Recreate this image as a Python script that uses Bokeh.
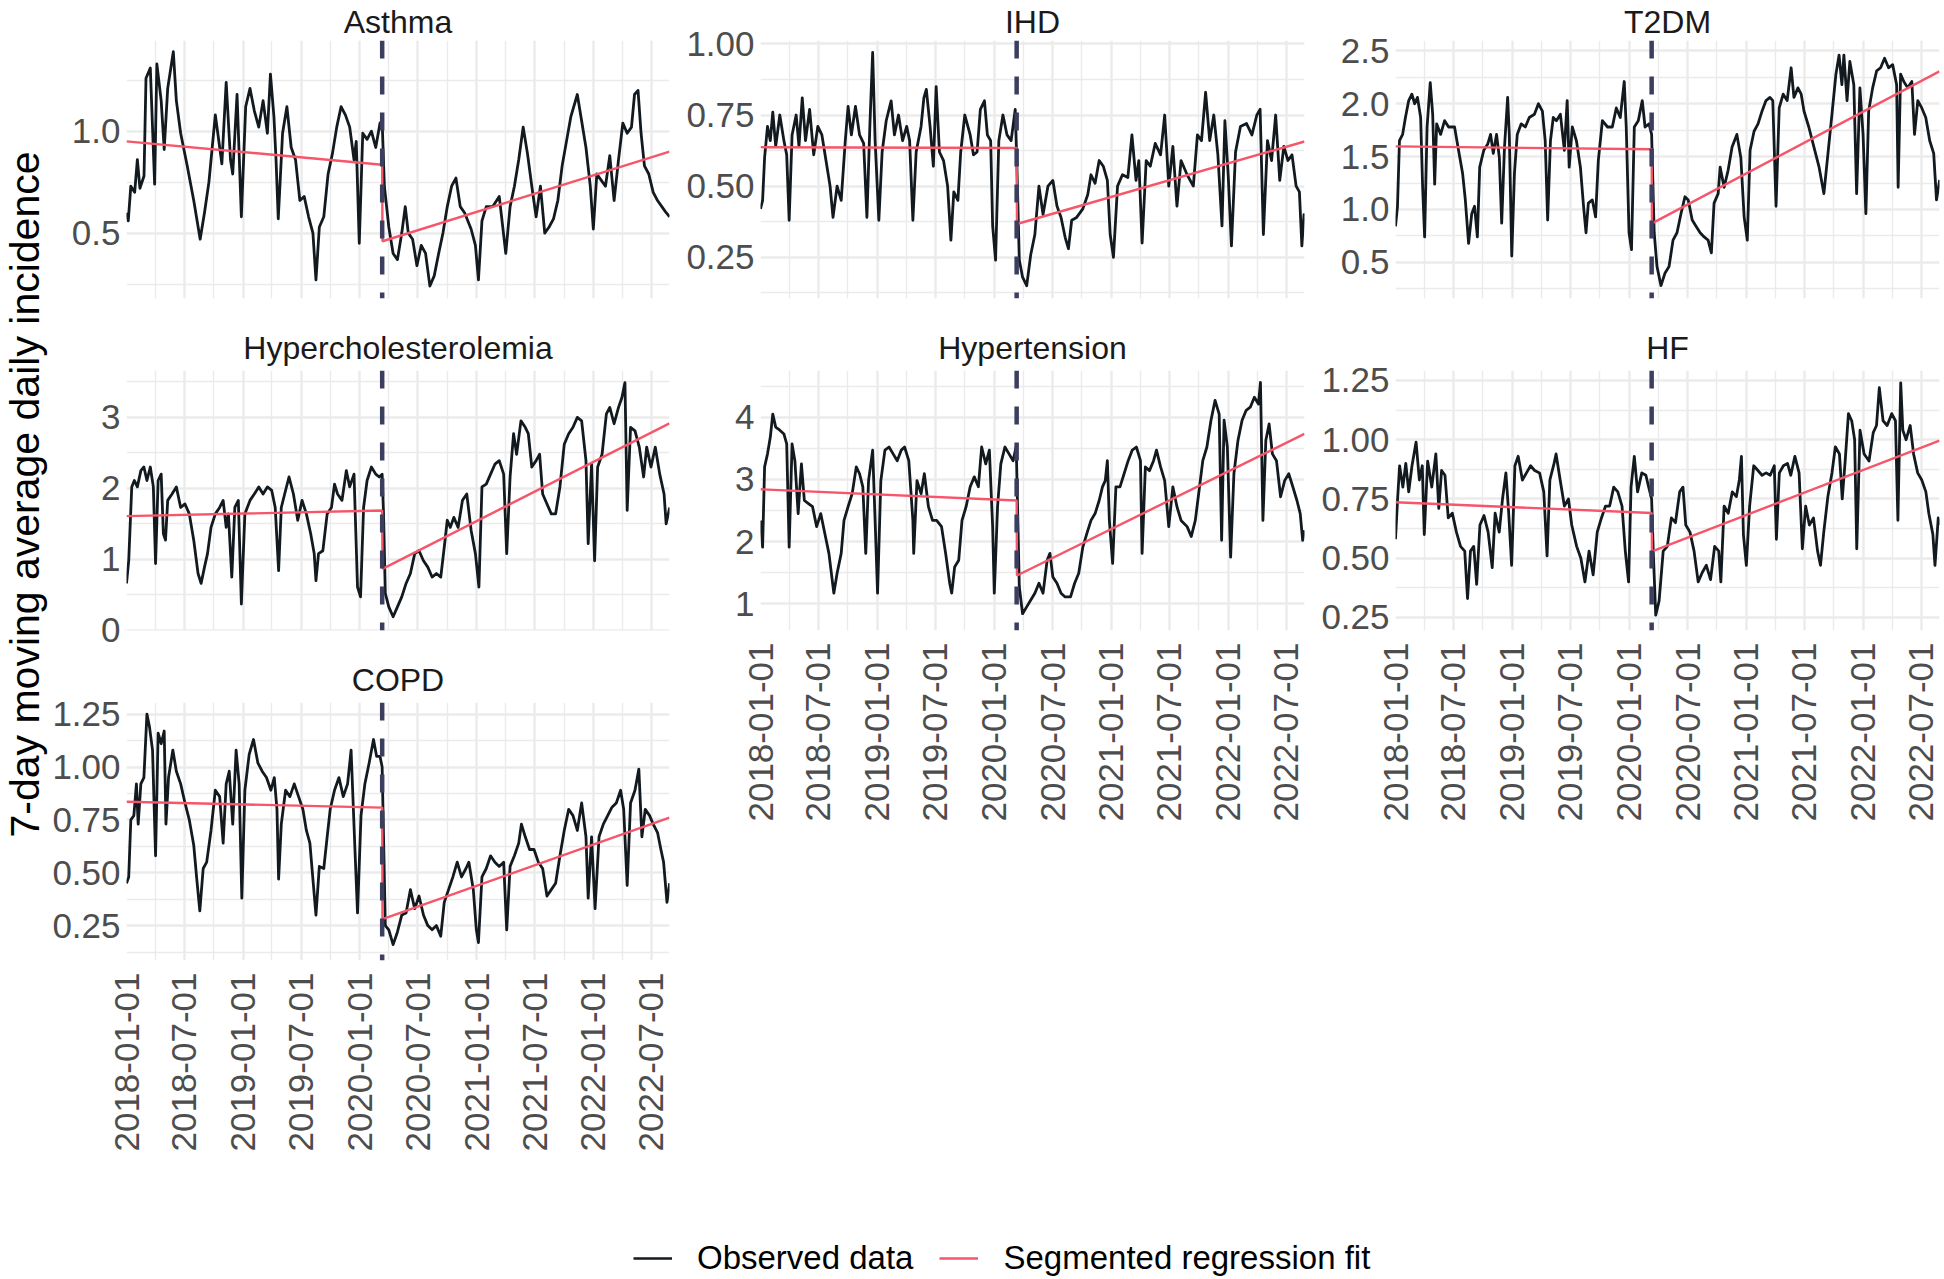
import numpy as np
import pandas as pd
from bokeh.plotting import figure
from bokeh.models import (Range1d, FixedTicker, PrintfTickFormatter,
                          DatetimeTickFormatter, Span, Legend, LegendItem)
from bokeh.layouts import row, column
from bokeh.embed import file_html
from bokeh.resources import INLINE
from bokeh.core.properties import value

# ---------------- data ----------------
X_START = "2018-01-01"
X_END = "2022-08-27"
BREAK_DATE = "2020-03-11"
X_TICK_LABELS = ["2018-01-01", "2018-07-01", "2019-01-01", "2019-07-01", "2020-01-01",
                 "2020-07-01", "2021-01-01", "2021-07-01", "2022-01-01", "2022-07-01"]
X_MINOR_DATES = ["2018-04-01", "2018-10-01", "2019-04-01", "2019-10-01", "2020-04-01",
                 "2020-10-01", "2021-04-01", "2021-10-01", "2022-04-01"]
Y_TITLE = "7-day moving average daily incidence"
LEGEND_LABELS = ["Observed data", "Segmented regression fit"]

# observed series: decimal-year positions and values
ASTHMA_YR = [2018.000, 2018.015, 2018.037, 2018.070, 2018.093, 2018.115, 2018.150, 2018.167, 2018.204, 2018.241,
             2018.260, 2018.297, 2018.323, 2018.353, 2018.401, 2018.427, 2018.464, 2018.520, 2018.576, 2018.631,
             2018.668, 2018.706, 2018.761, 2018.817, 2018.854, 2018.891, 2018.910, 2018.947, 2018.984, 2019.021,
             2019.058, 2019.095, 2019.133, 2019.170, 2019.207, 2019.233, 2019.263, 2019.281, 2019.300, 2019.337,
             2019.374, 2019.411, 2019.448, 2019.485, 2019.522, 2019.560, 2019.597, 2019.623, 2019.652, 2019.690,
             2019.727, 2019.764, 2019.801, 2019.838, 2019.875, 2019.912, 2019.949, 2019.968, 2019.994, 2020.024,
             2020.061, 2020.098, 2020.135, 2020.172, 2020.190, 2020.209, 2020.247, 2020.284, 2020.321, 2020.358,
             2020.388, 2020.414, 2020.451, 2020.488, 2020.525, 2020.562, 2020.599, 2020.636, 2020.674, 2020.711,
             2020.748, 2020.785, 2020.822, 2020.859, 2020.896, 2020.952, 2020.989, 2021.015, 2021.045, 2021.082,
             2021.138, 2021.193, 2021.249, 2021.286, 2021.323, 2021.360, 2021.398, 2021.435, 2021.472, 2021.509,
             2021.546, 2021.583, 2021.620, 2021.658, 2021.695, 2021.732, 2021.769, 2021.806, 2021.862, 2021.899,
             2021.936, 2021.973, 2021.999, 2022.029, 2022.066, 2022.103, 2022.140, 2022.177, 2022.215, 2022.252,
             2022.289, 2022.326, 2022.352, 2022.382, 2022.408, 2022.437, 2022.474, 2022.512, 2022.549, 2022.586,
             2022.623, 2022.653]
ASTHMA_VAL = [0.60, 0.56, 0.73, 0.70, 0.86, 0.72, 0.78, 1.26, 1.31, 0.74,
              1.33, 1.15, 0.91, 1.21, 1.39, 1.15, 0.99, 0.83, 0.66, 0.47,
              0.60, 0.75, 1.08, 0.84, 1.24, 0.86, 0.79, 1.18, 0.58, 1.12,
              1.21, 1.10, 1.02, 1.15, 0.99, 1.28, 1.07, 0.86, 0.57, 0.99,
              1.12, 0.92, 0.86, 0.66, 0.68, 0.58, 0.50, 0.27, 0.53, 0.58,
              0.79, 0.89, 1.02, 1.12, 1.08, 1.02, 0.86, 0.95, 0.45, 0.99,
              0.96, 1.00, 0.92, 1.04, 1.05, 0.73, 0.53, 0.40, 0.37, 0.50,
              0.63, 0.50, 0.47, 0.34, 0.44, 0.40, 0.24, 0.29, 0.40, 0.50,
              0.63, 0.73, 0.77, 0.63, 0.60, 0.52, 0.44, 0.27, 0.56, 0.63,
              0.63, 0.68, 0.40, 0.63, 0.73, 0.86, 1.02, 0.89, 0.73, 0.58,
              0.73, 0.50, 0.53, 0.57, 0.66, 0.83, 0.95, 1.07, 1.18, 1.05,
              0.92, 0.73, 0.52, 0.79, 0.76, 0.73, 0.88, 0.66, 0.86, 1.04,
              0.99, 1.02, 1.18, 1.20, 0.99, 0.83, 0.79, 0.70, 0.66, 0.63,
              0.60, 0.58]

IHD_YR = [2018.000, 2018.018, 2018.035, 2018.060, 2018.084, 2018.105, 2018.130, 2018.165, 2018.200, 2018.224,
          2018.245, 2018.270, 2018.305, 2018.329, 2018.357, 2018.385, 2018.420, 2018.455, 2018.490, 2018.525,
          2018.560, 2018.595, 2018.620, 2018.655, 2018.690, 2018.725, 2018.749, 2018.777, 2018.812, 2018.847,
          2018.882, 2018.910, 2018.935, 2018.959, 2018.980, 2019.012, 2019.040, 2019.075, 2019.117, 2019.145,
          2019.180, 2019.215, 2019.250, 2019.275, 2019.303, 2019.331, 2019.373, 2019.397, 2019.418, 2019.450,
          2019.478, 2019.502, 2019.530, 2019.565, 2019.600, 2019.628, 2019.653, 2019.688, 2019.712, 2019.747,
          2019.793, 2019.821, 2019.852, 2019.880, 2019.915, 2019.940, 2019.968, 2019.985, 2020.010, 2020.038,
          2020.073, 2020.108, 2020.143, 2020.178, 2020.190, 2020.213, 2020.241, 2020.276, 2020.311, 2020.346,
          2020.381, 2020.416, 2020.458, 2020.500, 2020.535, 2020.570, 2020.605, 2020.633, 2020.661, 2020.703,
          2020.756, 2020.798, 2020.826, 2020.861, 2020.896, 2020.931, 2020.966, 2020.990, 2021.018, 2021.053,
          2021.095, 2021.141, 2021.176, 2021.211, 2021.235, 2021.263, 2021.298, 2021.333, 2021.375, 2021.421,
          2021.456, 2021.491, 2021.526, 2021.561, 2021.596, 2021.648, 2021.701, 2021.736, 2021.771, 2021.806,
          2021.841, 2021.876, 2021.911, 2021.946, 2021.971, 2021.999, 2022.027, 2022.062, 2022.104, 2022.156,
          2022.202, 2022.244, 2022.272, 2022.300, 2022.335, 2022.370, 2022.405, 2022.440, 2022.475, 2022.510,
          2022.545, 2022.580, 2022.608, 2022.629, 2022.647, 2022.653]
IHD_VAL = [0.42, 0.45, 0.60, 0.71, 0.66, 0.76, 0.64, 0.75, 0.66, 0.61,
           0.38, 0.68, 0.75, 0.64, 0.81, 0.66, 0.77, 0.61, 0.71, 0.68,
           0.59, 0.50, 0.39, 0.50, 0.45, 0.66, 0.78, 0.68, 0.78, 0.68,
           0.65, 0.39, 0.71, 0.97, 0.66, 0.38, 0.62, 0.73, 0.80, 0.68,
           0.75, 0.66, 0.71, 0.66, 0.38, 0.62, 0.71, 0.81, 0.84, 0.71,
           0.57, 0.85, 0.62, 0.59, 0.50, 0.31, 0.48, 0.45, 0.62, 0.75,
           0.68, 0.61, 0.62, 0.77, 0.80, 0.68, 0.66, 0.36, 0.24, 0.66,
           0.75, 0.68, 0.66, 0.77, 0.61, 0.24, 0.18, 0.15, 0.26, 0.33,
           0.50, 0.40, 0.50, 0.52, 0.43, 0.39, 0.32, 0.28, 0.38, 0.39,
           0.42, 0.47, 0.54, 0.51, 0.59, 0.57, 0.52, 0.33, 0.25, 0.50,
           0.54, 0.53, 0.68, 0.52, 0.59, 0.30, 0.59, 0.57, 0.65, 0.61,
           0.75, 0.50, 0.64, 0.43, 0.59, 0.54, 0.50, 0.68, 0.66, 0.83,
           0.66, 0.75, 0.61, 0.36, 0.73, 0.54, 0.29, 0.62, 0.71, 0.72,
           0.68, 0.75, 0.77, 0.33, 0.66, 0.59, 0.75, 0.52, 0.64, 0.59,
           0.61, 0.50, 0.48, 0.29, 0.40, 0.39]

T2DM_YR = [2018.000, 2018.017, 2018.034, 2018.061, 2018.085, 2018.113, 2018.140, 2018.164, 2018.188, 2018.215,
           2018.232, 2018.249, 2018.270, 2018.297, 2018.318, 2018.335, 2018.352, 2018.386, 2018.420, 2018.454,
           2018.505, 2018.539, 2018.574, 2018.597, 2018.625, 2018.652, 2018.676, 2018.700, 2018.720, 2018.755,
           2018.789, 2018.813, 2018.836, 2018.864, 2018.888, 2018.908, 2018.932, 2018.959, 2018.973, 2018.994,
           2019.017, 2019.041, 2019.075, 2019.110, 2019.144, 2019.188, 2019.222, 2019.256, 2019.280, 2019.301,
           2019.325, 2019.349, 2019.376, 2019.410, 2019.444, 2019.468, 2019.485, 2019.512, 2019.547, 2019.581,
           2019.608, 2019.629, 2019.649, 2019.683, 2019.711, 2019.734, 2019.769, 2019.813, 2019.854, 2019.888,
           2019.922, 2019.956, 2019.973, 2019.997, 2020.018, 2020.042, 2020.076, 2020.110, 2020.134, 2020.168,
           2020.190, 2020.212, 2020.236, 2020.270, 2020.305, 2020.339, 2020.373, 2020.407, 2020.441, 2020.475,
           2020.503, 2020.537, 2020.571, 2020.605, 2020.639, 2020.673, 2020.701, 2020.724, 2020.759, 2020.776,
           2020.810, 2020.844, 2020.878, 2020.919, 2020.953, 2020.981, 2021.008, 2021.032, 2021.066, 2021.100,
           2021.134, 2021.168, 2021.202, 2021.226, 2021.254, 2021.281, 2021.315, 2021.349, 2021.383, 2021.407,
           2021.441, 2021.469, 2021.493, 2021.534, 2021.578, 2021.622, 2021.663, 2021.698, 2021.732, 2021.766,
           2021.793, 2021.817, 2021.834, 2021.861, 2021.885, 2021.919, 2021.943, 2021.971, 2021.998, 2022.022,
           2022.046, 2022.080, 2022.114, 2022.148, 2022.182, 2022.216, 2022.251, 2022.285, 2022.298, 2022.319,
           2022.346, 2022.380, 2022.415, 2022.438, 2022.466, 2022.500, 2022.534, 2022.568, 2022.602, 2022.626,
           2022.653]
T2DM_VAL = [0.84, 1.03, 1.65, 1.71, 1.87, 2.03, 2.09, 2.00, 2.06, 1.87,
            1.21, 0.74, 1.78, 2.20, 1.90, 1.24, 1.81, 1.71, 1.84, 1.78,
            1.78, 1.56, 1.34, 1.09, 0.68, 0.96, 1.03, 0.74, 1.40, 1.56,
            1.62, 1.71, 1.53, 1.71, 1.49, 0.87, 1.59, 2.06, 1.71, 0.56,
            1.34, 1.71, 1.81, 1.78, 1.87, 1.90, 2.00, 1.93, 1.65, 0.90,
            1.65, 1.87, 1.84, 1.90, 1.56, 2.03, 1.40, 1.78, 1.65, 1.40,
            1.03, 0.78, 1.06, 1.09, 0.93, 1.46, 1.84, 1.78, 1.78, 1.96,
            1.87, 2.21, 1.78, 0.78, 0.62, 1.78, 1.84, 2.03, 1.78, 1.81,
            1.71, 0.78, 0.46, 0.28, 0.40, 0.46, 0.71, 0.78, 0.96, 1.12,
            1.09, 0.90, 0.84, 0.78, 0.74, 0.71, 0.59, 1.06, 1.15, 1.40,
            1.21, 1.37, 1.59, 1.71, 1.49, 0.93, 0.71, 1.56, 1.74, 1.81,
            1.93, 2.03, 2.06, 2.03, 1.03, 1.96, 2.09, 2.03, 2.34, 2.06,
            2.15, 2.09, 1.93, 1.78, 1.59, 1.40, 1.15, 1.53, 1.90, 2.28,
            2.46, 2.18, 2.46, 2.03, 2.40, 2.18, 1.15, 2.15, 1.71, 0.96,
            1.93, 2.15, 2.31, 2.34, 2.43, 2.34, 2.37, 2.18, 1.21, 2.28,
            2.21, 2.15, 2.21, 1.71, 2.03, 1.96, 1.87, 1.65, 1.53, 1.09,
            1.28]

HYPERCHOL_YR = [2018.000, 2018.019, 2018.045, 2018.067, 2018.093, 2018.123, 2018.149, 2018.175, 2018.204, 2018.230,
                2018.249, 2018.271, 2018.297, 2018.316, 2018.334, 2018.353, 2018.390, 2018.427, 2018.464, 2018.501,
                2018.538, 2018.576, 2018.613, 2018.639, 2018.668, 2018.694, 2018.724, 2018.761, 2018.798, 2018.828,
                2018.854, 2018.873, 2018.902, 2018.928, 2018.958, 2018.984, 2019.014, 2019.058, 2019.095, 2019.133,
                2019.170, 2019.207, 2019.244, 2019.274, 2019.303, 2019.326, 2019.355, 2019.392, 2019.430, 2019.467,
                2019.504, 2019.541, 2019.578, 2019.608, 2019.623, 2019.645, 2019.682, 2019.719, 2019.756, 2019.782,
                2019.808, 2019.846, 2019.883, 2019.912, 2019.949, 2019.979, 2020.005, 2020.031, 2020.061, 2020.098,
                2020.135, 2020.165, 2020.190, 2020.202, 2020.217, 2020.247, 2020.284, 2020.321, 2020.358, 2020.395,
                2020.432, 2020.469, 2020.506, 2020.544, 2020.581, 2020.618, 2020.655, 2020.692, 2020.722, 2020.748,
                2020.774, 2020.804, 2020.841, 2020.878, 2020.915, 2020.952, 2020.989, 2021.019, 2021.045, 2021.082,
                2021.119, 2021.156, 2021.193, 2021.231, 2021.257, 2021.286, 2021.316, 2021.342, 2021.379, 2021.416,
                2021.442, 2021.472, 2021.509, 2021.539, 2021.565, 2021.602, 2021.639, 2021.676, 2021.713, 2021.750,
                2021.788, 2021.825, 2021.862, 2021.899, 2021.936, 2021.955, 2021.984, 2022.010, 2022.036, 2022.074,
                2022.111, 2022.140, 2022.177, 2022.215, 2022.244, 2022.270, 2022.289, 2022.318, 2022.356, 2022.393,
                2022.430, 2022.456, 2022.493, 2022.530, 2022.568, 2022.605, 2022.623, 2022.653]
HYPERCHOL_VAL = [0.66, 0.98, 2.02, 2.11, 2.02, 2.25, 2.30, 2.11, 2.30, 2.02,
                 0.94, 2.11, 2.20, 1.36, 1.27, 1.83, 1.92, 2.02, 1.73, 1.78,
                 1.64, 1.27, 0.80, 0.66, 0.89, 1.08, 1.45, 1.64, 1.73, 1.83,
                 1.45, 1.64, 0.75, 1.73, 1.83, 0.37, 1.64, 1.83, 1.92, 2.02,
                 1.92, 2.02, 1.97, 1.73, 0.84, 1.73, 1.92, 2.16, 1.92, 1.55,
                 1.83, 1.64, 1.36, 1.08, 0.70, 1.08, 1.12, 1.64, 1.73, 2.06,
                 1.92, 1.83, 2.25, 2.02, 2.20, 0.61, 0.47, 1.73, 2.11, 2.30,
                 2.20, 2.16, 2.20, 1.64, 0.52, 0.33, 0.19, 0.33, 0.47, 0.66,
                 0.80, 1.08, 1.12, 0.98, 0.89, 0.75, 0.80, 0.75, 1.17, 1.55,
                 1.45, 1.59, 1.45, 1.83, 1.92, 1.41, 1.08, 0.61, 2.02, 2.06,
                 2.20, 2.34, 2.39, 2.20, 1.08, 2.16, 2.77, 2.48, 2.95, 2.86,
                 2.77, 2.30, 2.39, 2.48, 1.92, 1.78, 1.64, 1.64, 2.02, 2.62,
                 2.77, 2.86, 3.00, 2.95, 2.39, 1.22, 2.34, 0.98, 2.30, 2.48,
                 3.05, 3.14, 2.91, 3.14, 3.28, 3.49, 1.69, 2.86, 2.81, 2.58,
                 2.16, 2.58, 2.30, 2.58, 2.20, 1.92, 1.50, 1.73]

HYPERT_YR = [2018.000, 2018.018, 2018.035, 2018.060, 2018.084, 2018.105, 2018.130, 2018.165, 2018.200, 2018.224,
             2018.245, 2018.270, 2018.294, 2018.322, 2018.350, 2018.375, 2018.410, 2018.445, 2018.480, 2018.515,
             2018.550, 2018.585, 2018.627, 2018.655, 2018.690, 2018.714, 2018.749, 2018.784, 2018.819, 2018.847,
             2018.875, 2018.900, 2018.924, 2018.959, 2018.980, 2019.001, 2019.029, 2019.064, 2019.099, 2019.134,
             2019.169, 2019.204, 2019.232, 2019.268, 2019.303, 2019.310, 2019.338, 2019.373, 2019.401, 2019.436,
             2019.471, 2019.506, 2019.548, 2019.583, 2019.618, 2019.635, 2019.660, 2019.695, 2019.723, 2019.758,
             2019.793, 2019.828, 2019.863, 2019.891, 2019.926, 2019.957, 2019.985, 2019.999, 2020.027, 2020.055,
             2020.090, 2020.125, 2020.160, 2020.185, 2020.190, 2020.213, 2020.241, 2020.276, 2020.311, 2020.346,
             2020.381, 2020.416, 2020.451, 2020.475, 2020.500, 2020.535, 2020.570, 2020.605, 2020.651, 2020.686,
             2020.721, 2020.756, 2020.791, 2020.826, 2020.861, 2020.896, 2020.924, 2020.948, 2020.966, 2020.983,
             2021.011, 2021.039, 2021.074, 2021.109, 2021.144, 2021.179, 2021.214, 2021.249, 2021.263, 2021.291,
             2021.326, 2021.361, 2021.386, 2021.421, 2021.456, 2021.491, 2021.526, 2021.561, 2021.596, 2021.648,
             2021.683, 2021.718, 2021.754, 2021.782, 2021.817, 2021.852, 2021.887, 2021.922, 2021.943, 2021.964,
             2021.992, 2022.020, 2022.048, 2022.083, 2022.118, 2022.153, 2022.188, 2022.223, 2022.258, 2022.275,
             2022.296, 2022.321, 2022.349, 2022.377, 2022.412, 2022.447, 2022.482, 2022.517, 2022.552, 2022.587,
             2022.615, 2022.636, 2022.653]
HYPERT_VAL = [2.34, 1.91, 3.20, 3.41, 3.68, 4.05, 3.84, 3.79, 3.73, 3.57,
              1.91, 3.57, 3.30, 2.45, 3.25, 2.66, 2.61, 2.56, 2.24, 2.45,
              2.13, 1.81, 1.17, 1.49, 1.81, 2.34, 2.56, 2.77, 3.20, 3.09,
              2.88, 1.81, 2.98, 3.47, 2.34, 1.17, 2.98, 3.47, 3.52, 3.41,
              3.30, 3.47, 3.52, 3.30, 2.34, 1.81, 2.98, 2.77, 3.09, 2.56,
              2.34, 2.34, 2.24, 1.81, 1.33, 1.17, 1.59, 1.70, 2.34, 2.56,
              2.88, 3.04, 2.88, 3.52, 3.25, 3.47, 2.24, 1.17, 2.56, 3.25,
              3.52, 3.41, 3.30, 3.52, 3.25, 1.27, 0.84, 0.95, 1.06, 1.17,
              1.33, 1.17, 1.70, 1.81, 1.43, 1.33, 1.17, 1.11, 1.11, 1.33,
              1.49, 1.91, 2.13, 2.34, 2.45, 2.66, 2.88, 2.98, 3.30, 2.34,
              1.65, 2.88, 2.88, 3.09, 3.30, 3.47, 3.52, 3.30, 1.81, 3.20,
              3.14, 3.30, 3.47, 3.20, 2.98, 2.24, 2.88, 2.56, 2.34, 2.24,
              2.08, 2.34, 2.88, 3.30, 3.52, 3.95, 4.27, 4.05, 2.02, 3.95,
              3.52, 1.75, 3.09, 3.63, 3.95, 4.11, 4.16, 4.32, 4.21, 4.56,
              2.34, 3.63, 3.89, 3.41, 3.30, 2.72, 2.98, 3.09, 2.88, 2.66,
              2.45, 2.02, 2.18]

HF_YR = [2018.000, 2018.018, 2018.035, 2018.063, 2018.088, 2018.113, 2018.141, 2018.176, 2018.204, 2018.229,
         2018.246, 2018.275, 2018.310, 2018.345, 2018.370, 2018.394, 2018.423, 2018.451, 2018.486, 2018.521,
         2018.556, 2018.592, 2018.616, 2018.641, 2018.669, 2018.694, 2018.722, 2018.757, 2018.792, 2018.827,
         2018.852, 2018.887, 2018.915, 2018.944, 2018.968, 2018.993, 2019.021, 2019.049, 2019.085, 2019.120,
         2019.155, 2019.190, 2019.232, 2019.268, 2019.296, 2019.320, 2019.356, 2019.373, 2019.408, 2019.444,
         2019.479, 2019.507, 2019.549, 2019.585, 2019.620, 2019.655, 2019.690, 2019.725, 2019.761, 2019.796,
         2019.831, 2019.866, 2019.901, 2019.937, 2019.965, 2019.993, 2020.014, 2020.042, 2020.070, 2020.106,
         2020.141, 2020.165, 2020.190, 2020.204, 2020.225, 2020.254, 2020.289, 2020.324, 2020.359, 2020.394,
         2020.430, 2020.458, 2020.482, 2020.518, 2020.553, 2020.588, 2020.623, 2020.658, 2020.694, 2020.729,
         2020.764, 2020.782, 2020.810, 2020.845, 2020.880, 2020.915, 2020.940, 2020.958, 2020.975, 2021.000,
         2021.028, 2021.063, 2021.099, 2021.134, 2021.169, 2021.204, 2021.239, 2021.257, 2021.282, 2021.317,
         2021.352, 2021.380, 2021.415, 2021.451, 2021.479, 2021.507, 2021.539, 2021.574, 2021.609, 2021.634,
         2021.662, 2021.697, 2021.732, 2021.761, 2021.796, 2021.820, 2021.845, 2021.873, 2021.901, 2021.926,
         2021.944, 2021.972, 2022.007, 2022.049, 2022.085, 2022.113, 2022.137, 2022.169, 2022.204, 2022.243,
         2022.275, 2022.296, 2022.320, 2022.338, 2022.366, 2022.401, 2022.430, 2022.465, 2022.500, 2022.535,
         2022.560, 2022.595, 2022.613, 2022.641, 2022.653]
HF_VAL = [0.58, 0.75, 0.89, 0.80, 0.90, 0.78, 0.89, 0.99, 0.83, 0.89,
          0.60, 0.91, 0.80, 0.94, 0.71, 0.87, 0.85, 0.67, 0.69, 0.61,
          0.55, 0.53, 0.33, 0.53, 0.55, 0.39, 0.64, 0.68, 0.61, 0.46,
          0.69, 0.61, 0.75, 0.86, 0.69, 0.47, 0.89, 0.93, 0.83, 0.86,
          0.89, 0.87, 0.86, 0.78, 0.51, 0.83, 0.90, 0.94, 0.83, 0.72,
          0.75, 0.64, 0.55, 0.50, 0.40, 0.53, 0.43, 0.61, 0.67, 0.72,
          0.72, 0.80, 0.78, 0.72, 0.53, 0.40, 0.80, 0.93, 0.78, 0.86,
          0.85, 0.80, 0.75, 0.53, 0.26, 0.32, 0.53, 0.55, 0.67, 0.65,
          0.78, 0.80, 0.64, 0.61, 0.53, 0.40, 0.44, 0.47, 0.41, 0.55,
          0.53, 0.40, 0.72, 0.69, 0.78, 0.76, 0.83, 0.93, 0.60, 0.47,
          0.72, 0.89, 0.87, 0.85, 0.86, 0.85, 0.89, 0.58, 0.86, 0.89,
          0.90, 0.85, 0.93, 0.86, 0.54, 0.72, 0.64, 0.67, 0.53, 0.47,
          0.61, 0.76, 0.86, 0.97, 0.94, 0.75, 0.91, 1.11, 1.08, 1.00,
          0.54, 1.04, 0.94, 0.91, 1.03, 1.06, 1.22, 1.08, 1.06, 1.11,
          1.08, 0.66, 1.24, 1.04, 1.00, 1.06, 0.94, 0.86, 0.83, 0.78,
          0.69, 0.60, 0.47, 0.67, 0.64]

COPD_YR = [2018.000, 2018.019, 2018.037, 2018.063, 2018.085, 2018.100, 2018.123, 2018.149, 2018.175, 2018.197,
           2018.223, 2018.249, 2018.271, 2018.297, 2018.323, 2018.338, 2018.360, 2018.397, 2018.427, 2018.464,
           2018.501, 2018.538, 2018.576, 2018.602, 2018.628, 2018.657, 2018.687, 2018.724, 2018.761, 2018.798,
           2018.828, 2018.854, 2018.880, 2018.910, 2018.939, 2018.965, 2018.988, 2019.014, 2019.051, 2019.088,
           2019.125, 2019.162, 2019.199, 2019.237, 2019.266, 2019.289, 2019.303, 2019.326, 2019.363, 2019.400,
           2019.437, 2019.474, 2019.511, 2019.541, 2019.571, 2019.600, 2019.623, 2019.652, 2019.690, 2019.719,
           2019.745, 2019.782, 2019.820, 2019.857, 2019.894, 2019.924, 2019.957, 2019.979, 2020.009, 2020.042,
           2020.079, 2020.116, 2020.143, 2020.172, 2020.190, 2020.202, 2020.217, 2020.247, 2020.284, 2020.321,
           2020.358, 2020.395, 2020.432, 2020.469, 2020.506, 2020.544, 2020.581, 2020.618, 2020.655, 2020.692,
           2020.722, 2020.759, 2020.796, 2020.833, 2020.870, 2020.908, 2020.933, 2020.971, 2020.997, 2021.015,
           2021.045, 2021.082, 2021.119, 2021.156, 2021.193, 2021.231, 2021.257, 2021.286, 2021.323, 2021.360,
           2021.383, 2021.416, 2021.453, 2021.491, 2021.528, 2021.565, 2021.602, 2021.639, 2021.676, 2021.713,
           2021.750, 2021.788, 2021.825, 2021.862, 2021.899, 2021.936, 2021.955, 2021.984, 2022.014, 2022.048,
           2022.085, 2022.122, 2022.159, 2022.196, 2022.233, 2022.259, 2022.289, 2022.318, 2022.356, 2022.389,
           2022.415, 2022.444, 2022.481, 2022.512, 2022.549, 2022.578, 2022.601, 2022.630, 2022.653]
COPD_VAL = [0.45, 0.48, 0.75, 0.77, 0.92, 0.73, 0.92, 0.95, 1.25, 1.19,
            1.08, 0.58, 1.16, 1.11, 1.17, 0.73, 0.95, 1.08, 0.98, 0.92,
            0.83, 0.75, 0.63, 0.47, 0.32, 0.52, 0.55, 0.70, 0.89, 0.86,
            0.64, 0.92, 0.98, 0.73, 1.08, 0.92, 0.38, 0.89, 1.06, 1.13,
            1.02, 0.98, 0.95, 0.89, 0.95, 0.80, 0.47, 0.73, 0.89, 0.86,
            0.92, 0.86, 0.80, 0.70, 0.64, 0.45, 0.30, 0.53, 0.52, 0.67,
            0.80, 0.89, 0.95, 0.86, 0.92, 1.08, 0.61, 0.31, 0.77, 0.92,
            1.02, 1.13, 1.05, 1.05, 1.00, 0.67, 0.25, 0.23, 0.16, 0.22,
            0.30, 0.31, 0.42, 0.33, 0.39, 0.30, 0.25, 0.23, 0.25, 0.20,
            0.36, 0.42, 0.48, 0.55, 0.48, 0.52, 0.55, 0.42, 0.23, 0.17,
            0.48, 0.52, 0.58, 0.55, 0.53, 0.55, 0.23, 0.53, 0.58, 0.64,
            0.73, 0.67, 0.61, 0.61, 0.55, 0.52, 0.39, 0.42, 0.45, 0.58,
            0.70, 0.80, 0.77, 0.70, 0.83, 0.67, 0.38, 0.67, 0.33, 0.67,
            0.73, 0.77, 0.81, 0.83, 0.89, 0.80, 0.44, 0.83, 0.89, 0.99,
            0.67, 0.80, 0.77, 0.73, 0.69, 0.61, 0.55, 0.36, 0.45]

# segmented regression fit: [pre start, pre end, post start, post end]
ASTHMA_FIT = [0.95, 0.835, 0.46, 0.90]
IHD_FIT = [0.637, 0.634, 0.367, 0.657]
T2DM_FIT = [1.597, 1.569, 0.869, 2.306]
HYPERCHOL_FIT = [1.608, 1.687, 0.866, 2.916]
HYPERT_FIT = [2.84, 2.66, 1.455, 3.73]
HF_FIT = [0.736, 0.691, 0.529, 0.996]
COPD_FIT = [0.836, 0.808, 0.281, 0.761]

# y limits and y ticks per panel
ASTHMA_YLIM = [0.179, 1.445]
IHD_YLIM = [0.105, 1.012]
T2DM_YLIM = [0.158, 2.598]
HYPERCHOL_YLIM = [-0.003, 3.66]
HYPERT_YLIM = [0.57, 4.75]
HF_YLIM = [0.195, 1.292]
COPD_YLIM = [0.085, 1.305]

ASTHMA_YT = [0.5, 1.0];                 ASTHMA_YM = [0.25, 0.75, 1.25]
IHD_YT = [0.25, 0.5, 0.75, 1.0];        IHD_YM = [0.125, 0.375, 0.625, 0.875]
T2DM_YT = [0.5, 1.0, 1.5, 2.0, 2.5];    T2DM_YM = [0.25, 0.75, 1.25, 1.75, 2.25]
HYPERCHOL_YT = [0, 1, 2, 3];            HYPERCHOL_YM = [0.5, 1.5, 2.5, 3.5]
HYPERT_YT = [1, 2, 3, 4];               HYPERT_YM = [1.5, 2.5, 3.5, 4.5]
HF_YT = [0.25, 0.5, 0.75, 1.0, 1.25];   HF_YM = [0.375, 0.625, 0.875, 1.125]
COPD_YT = [0.25, 0.5, 0.75, 1.0, 1.25]; COPD_YM = [0.125, 0.375, 0.625, 0.875, 1.125]

# ---------------- styling ----------------
FONT = "Liberation Sans"
TICK_FS = "35px"
STRIP_FS = "32px"
LEG_FS = "33px"
OBS_COLOR = "#121A1F"
FIT_COLOR = "#F5566A"
DASH_COLOR = "#3B3E5E"
GRID_COLOR = "#EBEBEB"
TICK_COLOR = "#4D4D4D"
STRIP_COLOR = "#1A1A1A"


def ms(d):
    return pd.Timestamp(d).value / 1e6


def to_dt(years):
    y = np.asarray(years, dtype=float)
    return (pd.Timestamp(X_START) + pd.to_timedelta((y - 2018.0) * 365.25, unit="D")).to_numpy()


X_MAJOR_MS = [ms(d) for d in X_TICK_LABELS]
X_MINOR_MS = [ms(d) for d in X_MINOR_DATES]
BREAK_MS = ms(BREAK_DATE)
FIT_X = np.array([pd.Timestamp(X_START), pd.Timestamp(BREAK_DATE),
                  pd.Timestamp(BREAK_DATE) + pd.Timedelta(days=1), pd.Timestamp(X_END)],
                 dtype="datetime64[ns]")


def blank_fig(w, h):
    f = figure(width=w, height=h, x_range=Range1d(0, w), y_range=Range1d(0, h),
               toolbar_location=None, output_backend="svg", min_border=0)
    f.axis.visible = False
    f.grid.visible = False
    f.outline_line_color = None
    return f


def make_panel(title, yrs, vals, fit, ylim, yt, ym, yfmt, fw, bl, br, fh, bt, bb, show_x, ts):
    p = figure(width=bl + fw + br, height=bt + fh + bb, x_axis_type="datetime",
               x_range=Range1d(ms(X_START), ms(X_END)), y_range=Range1d(ylim[0], ylim[1]),
               toolbar_location=None, output_backend="svg",
               min_border_left=bl, min_border_right=br, min_border_top=bt, min_border_bottom=bb)
    p.outline_line_color = None
    p.background_fill_color = "white"
    p.border_fill_color = "white"

    p.title.text = title
    p.title.align = "center"
    p.title.text_font = FONT
    p.title.text_font_size = STRIP_FS
    p.title.text_font_style = "normal"
    p.title.text_color = STRIP_COLOR
    p.title.standoff = ts
    p.title.offset = 0

    xt = FixedTicker(ticks=X_MAJOR_MS, minor_ticks=X_MINOR_MS)
    ytk = FixedTicker(ticks=yt, minor_ticks=ym)
    p.xaxis.ticker = xt
    p.xgrid.ticker = xt
    p.yaxis.ticker = ytk
    p.ygrid.ticker = ytk
    for g in (p.xgrid, p.ygrid):
        g.grid_line_color = GRID_COLOR
        g.grid_line_width = 2.4
        g.minor_grid_line_color = GRID_COLOR
        g.minor_grid_line_width = 1.4

    for ax in (p.xaxis, p.yaxis):
        ax.axis_line_color = None
        ax.major_tick_line_color = None
        ax.minor_tick_line_color = None
        ax.major_tick_out = 0
        ax.major_tick_in = 0
        ax.minor_tick_out = 0
        ax.minor_tick_in = 0
        ax.major_label_text_font = FONT
        ax.major_label_text_font_size = TICK_FS
        ax.major_label_text_color = TICK_COLOR
    p.yaxis.major_label_standoff = 6
    p.yaxis.formatter = PrintfTickFormatter(format=yfmt)
    p.xaxis.formatter = DatetimeTickFormatter(days="%Y-%m-%d", months="%Y-%m-%d", years="%Y-%m-%d")
    p.xaxis.major_label_orientation = np.pi / 2
    p.xaxis.major_label_standoff = 12
    p.xaxis.visible = show_x

    p.line(x=to_dt(yrs), y=vals, line_color=OBS_COLOR, line_width=2.8, line_join="round")
    p.line(x=FIT_X, y=fit, line_color=FIT_COLOR, line_width=2.4)
    p.add_layout(Span(location=BREAK_MS, dimension="height", line_color=DASH_COLOR,
                      line_width=4.5, line_dash="18 18"))
    return p


# layout geometry (px); the Bokeh page template has no body margin
YT_W = 49
C1 = dict(fw=545, bl=75, br=5)
C2 = dict(fw=544, bl=86, br=5)
C3 = dict(fw=544, bl=86, br=2)
R1 = dict(fh=259, bt=39, bb=22, show_x=False, ts=2)
R2 = dict(fh=260, bt=50, bb=22, show_x=False, ts=10)
R2X = dict(fh=260, bt=50, bb=200, show_x=True, ts=10)
R3X = dict(fh=258, bt=50, bb=205, show_x=True, ts=10)

asthma = make_panel("Asthma", ASTHMA_YR, ASTHMA_VAL, ASTHMA_FIT, ASTHMA_YLIM, ASTHMA_YT, ASTHMA_YM, "%.1f", **C1, **R1)
ihd = make_panel("IHD", IHD_YR, IHD_VAL, IHD_FIT, IHD_YLIM, IHD_YT, IHD_YM, "%.2f", **C2, **R1)
t2dm = make_panel("T2DM", T2DM_YR, T2DM_VAL, T2DM_FIT, T2DM_YLIM, T2DM_YT, T2DM_YM, "%.1f", **C3, **R1)
hyperchol = make_panel("Hypercholesterolemia", HYPERCHOL_YR, HYPERCHOL_VAL, HYPERCHOL_FIT, HYPERCHOL_YLIM,
                       HYPERCHOL_YT, HYPERCHOL_YM, "%d", **C1, **R2)
hypert = make_panel("Hypertension", HYPERT_YR, HYPERT_VAL, HYPERT_FIT, HYPERT_YLIM, HYPERT_YT, HYPERT_YM, "%d",
                    **C2, **R2X)
hf = make_panel("HF", HF_YR, HF_VAL, HF_FIT, HF_YLIM, HF_YT, HF_YM, "%.2f", **C3, **R2X)
copd = make_panel("COPD", COPD_YR, COPD_VAL, COPD_FIT, COPD_YLIM, COPD_YT, COPD_YM, "%.2f", **C1, **R3X)

col1 = column(asthma, hyperchol, copd)
col2 = column(ihd, hypert)
col3 = column(t2dm, hf)

COL_H = (39 + 259 + 22) + (50 + 260 + 22) + (50 + 258 + 205)
# y-axis title strip
yt_fig = blank_fig(YT_W, COL_H)
yt_fig.text(x=[24.5], y=[COL_H - 494], text=[Y_TITLE], angle=np.pi / 2, text_align="center",
            text_baseline="middle", text_font=value(FONT), text_font_size="41px", text_color="black")

TOTAL_W = YT_W + (75 + 545 + 5) + (86 + 544 + 5) + (86 + 544 + 2)
LEG_H = 112
leg_fig = blank_fig(TOTAL_W, LEG_H)
# legend keys: off-canvas samples, only used to draw the legend glyphs
r_obs = leg_fig.line(x=[-20, -10], y=[-20, -10], line_color=OBS_COLOR, line_width=2.6)
r_fit = leg_fig.line(x=[-20, -10], y=[-20, -10], line_color=FIT_COLOR, line_width=2.6)
legend = Legend(items=[LegendItem(label=LEGEND_LABELS[0], renderers=[r_obs]),
                       LegendItem(label=LEGEND_LABELS[1], renderers=[r_fit])],
                location=(633, 0), orientation="horizontal", glyph_width=39, glyph_height=20,
                label_standoff=25, spacing=26, padding=0, margin=0,
                border_line_color=None, background_fill_alpha=0,
                label_text_font=FONT, label_text_font_size=LEG_FS, label_text_color="black")
leg_fig.add_layout(legend)

layout = column(row(yt_fig, col1, col2, col3), leg_fig)

with open("out.html", "w") as f:
    f.write(file_html(layout, INLINE))
